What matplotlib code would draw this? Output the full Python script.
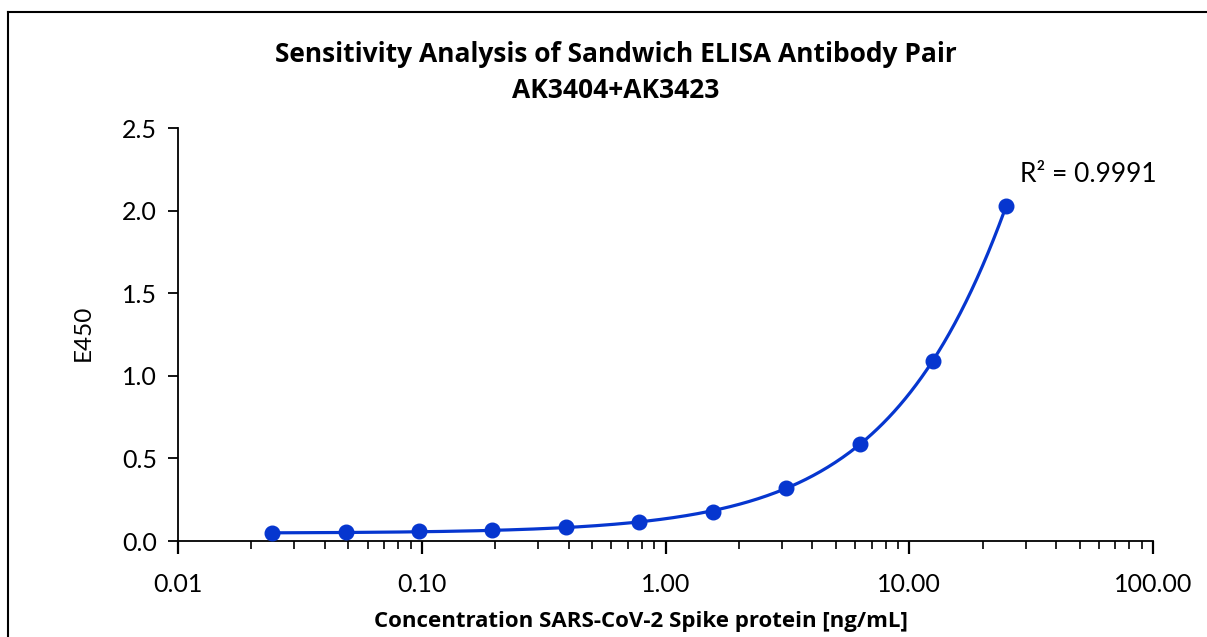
import numpy as np
import matplotlib
matplotlib.use("Agg")
import matplotlib.pyplot as plt
from matplotlib.ticker import LogLocator, FixedLocator, NullFormatter
from matplotlib.lines import Line2D

concentration = [0.0244, 0.0488, 0.0977, 0.195, 0.39, 0.78, 1.5625, 3.125, 6.25, 12.5, 25.0]
e450 = [0.051, 0.053, 0.058, 0.066, 0.082, 0.113, 0.176, 0.318, 0.59, 1.09, 2.03]
x_ticks = [0.01, 0.1, 1, 10, 100]
x_tick_labels = ["0.01", "0.10", "1.00", "10.00", "100.00"]
y_ticks = [0.0, 0.5, 1.0, 1.5, 2.0, 2.5]
y_tick_labels = ["0.0", "0.5", "1.0", "1.5", "2.0", "2.5"]
title_line1 = "Sensitivity Analysis of Sandwich ELISA Antibody Pair"
title_line2 = "AK3404+AK3423"
r2_text = "R² = 0.9991"

color = "#0636CF"

fig = plt.figure(figsize=(12.07, 6.37), dpi=100)
ax = fig.add_axes([0.1475, 0.1507, 0.8078, 0.6483])

# trendline: quadratic fit in linear concentration
coef = np.polyfit(concentration, e450, 2)
xs = np.logspace(np.log10(concentration[0]), np.log10(concentration[-1]), 400)
ax.plot(xs, np.polyval(coef, xs), color=color, lw=2.3, zorder=2)
ax.plot(concentration, e450, 'o', color=color, ms=10.5, zorder=3)

ax.set_xscale('log')
ax.set_xlim(0.01, 100)
ax.set_ylim(0, 2.5)
ax.xaxis.set_major_locator(FixedLocator(x_ticks))
ax.set_xticklabels(x_tick_labels)
ax.xaxis.set_minor_locator(LogLocator(base=10, subs=np.arange(2, 10)))
ax.xaxis.set_minor_formatter(NullFormatter())
ax.set_yticks(y_ticks)
ax.set_yticklabels(y_tick_labels)

for s in ['top', 'right']:
    ax.spines[s].set_visible(False)
for s in ['left', 'bottom']:
    ax.spines[s].set_linewidth(1.3)
    ax.spines[s].set_color('black')

ax.tick_params(axis='x', which='major', direction='out', length=9, width=1.6, pad=14)
ax.tick_params(axis='x', which='minor', direction='out', length=6, width=1.2)
ax.tick_params(axis='y', which='major', direction='out', length=7, width=1.3, pad=8)
for lab in ax.get_xticklabels() + ax.get_yticklabels():
    lab.set_fontfamily('Lato')
    lab.set_fontsize(18)

fig.text(616 / 1207, 1 - 54 / 637, title_line1, ha='center', va='center', fontsize=19,
         fontweight='bold', family='Open Sans')
fig.text(616 / 1207, 1 - 90 / 637, title_line2, ha='center', va='center', fontsize=19,
         fontweight='bold', family='Open Sans')
fig.text(641 / 1207, 1 - 621 / 637, "Concentration SARS-CoV-2 Spike protein [ng/mL]",
         ha='center', va='center', fontsize=16, fontweight='bold', family='Open Sans')
fig.text(83 / 1207, 1 - 333 / 637, "E450", rotation=90, ha='center', va='center',
         fontsize=17.5, family='Lato')
fig.text(1088 / 1207, 1 - 174 / 637, r2_text, ha='center', va='center',
         fontsize=19, family='Lato')

# figure frame (left and top edges)
fig.add_artist(Line2D([8 / 1207, 8 / 1207], [0, 1 - 12 / 637], transform=fig.transFigure,
                      color='black', lw=1.5))
fig.add_artist(Line2D([8 / 1207, 1], [1 - 12 / 637, 1 - 12 / 637], transform=fig.transFigure,
                      color='black', lw=1.5))

fig.savefig("out.png", dpi=100)
